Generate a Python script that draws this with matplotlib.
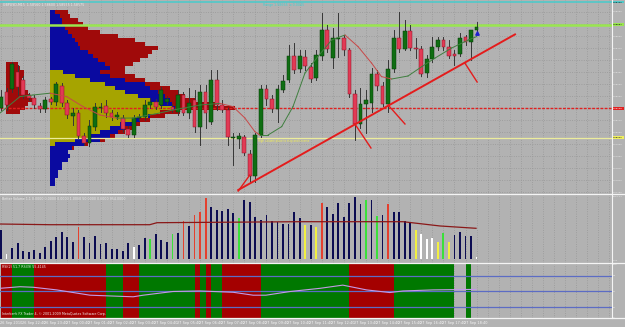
import matplotlib.pyplot as plt
from matplotlib.lines import Line2D
from matplotlib.patches import Rectangle
from matplotlib.transforms import blended_transform_factory

# GBPUSD M15 candles (26 Sep 21:40 .. 27 Sep 19:10)
opens = [1.58170, 1.58250, 1.58265, 1.58350, 1.58310, 1.58235, 1.58220, 1.58180, 1.58165, 1.58215,
         1.58200, 1.58280, 1.58195, 1.58130, 1.58145, 1.58030, 1.57995, 1.58075, 1.58170, 1.58180,
         1.58145, 1.58125, 1.58120, 1.58065, 1.58035, 1.58120, 1.58125, 1.58185, 1.58200, 1.58185,
         1.58200, 1.58175, 1.58150, 1.58235, 1.58145, 1.58210, 1.58075, 1.58250, 1.58100, 1.58310,
         1.58185, 1.58160, 1.58020, 1.58015, 1.58025, 1.57940, 1.57830, 1.58035, 1.58265, 1.58215,
         1.58165, 1.58260, 1.58310, 1.58430, 1.58365, 1.58425, 1.58375, 1.58320, 1.58430, 1.58560,
         1.58420, 1.58515, 1.58520, 1.58460, 1.58240, 1.58090, 1.58190, 1.58195, 1.58340, 1.58280,
         1.58190, 1.58365, 1.58520, 1.58465, 1.58555, 1.58470, 1.58465, 1.58345, 1.58415, 1.58475,
         1.58510, 1.58475, 1.58440, 1.58440, 1.58525, 1.58500, 1.58560]
highs = [1.58260, 1.58270, 1.58400, 1.58385, 1.58330, 1.58245, 1.58235, 1.58195, 1.58225, 1.58225,
         1.58300, 1.58295, 1.58210, 1.58170, 1.58160, 1.58045, 1.58110, 1.58195, 1.58195, 1.58210,
         1.58160, 1.58150, 1.58135, 1.58080, 1.58135, 1.58140, 1.58210, 1.58220, 1.58215, 1.58275,
         1.58230, 1.58190, 1.58260, 1.58250, 1.58270, 1.58260, 1.58285, 1.58285, 1.58360, 1.58360,
         1.58210, 1.58170, 1.58045, 1.58045, 1.58035, 1.57960, 1.58045, 1.58285, 1.58285, 1.58235,
         1.58285, 1.58335, 1.58485, 1.58495, 1.58460, 1.58460, 1.58395, 1.58460, 1.58645, 1.58585,
         1.58570, 1.58645, 1.58535, 1.58470, 1.58260, 1.58270, 1.58260, 1.58370, 1.58360, 1.58300,
         1.58410, 1.58560, 1.58650, 1.58610, 1.58585, 1.58520, 1.58480, 1.58435, 1.58525, 1.58525,
         1.58525, 1.58510, 1.58460, 1.58545, 1.58535, 1.58560, 1.58600]
lows = [1.58160, 1.58160, 1.58250, 1.58235, 1.58220, 1.58210, 1.58170, 1.58150, 1.58150, 1.58190,
        1.58185, 1.58180, 1.58120, 1.58085, 1.58020, 1.57985, 1.57980, 1.58060, 1.58150, 1.58125,
        1.58110, 1.58115, 1.58050, 1.58025, 1.58025, 1.58110, 1.58110, 1.58170, 1.58165, 1.58170,
        1.58190, 1.58150, 1.58135, 1.58135, 1.58120, 1.58050, 1.57985, 1.58070, 1.58090, 1.58160,
        1.58150, 1.57985, 1.57885, 1.57970, 1.57935, 1.57795, 1.57800, 1.58025, 1.58185, 1.58150,
        1.58100, 1.58250, 1.58300, 1.58345, 1.58350, 1.58360, 1.58300, 1.58310, 1.58410, 1.58450,
        1.58370, 1.58425, 1.58435, 1.58225, 1.58010, 1.58070, 1.58045, 1.58150, 1.58260, 1.58180,
        1.58150, 1.58350, 1.58450, 1.58460, 1.58460, 1.58420, 1.58330, 1.58325, 1.58400, 1.58460,
        1.58460, 1.58420, 1.58385, 1.58430, 1.58485, 1.58410, 1.58555]
closes = [1.58225, 1.58185, 1.58390, 1.58275, 1.58235, 1.58220, 1.58185, 1.58165, 1.58210, 1.58200,
          1.58290, 1.58195, 1.58135, 1.58145, 1.58030, 1.57995, 1.58080, 1.58175, 1.58175, 1.58145,
          1.58125, 1.58135, 1.58065, 1.58035, 1.58120, 1.58125, 1.58185, 1.58200, 1.58175, 1.58260,
          1.58215, 1.58160, 1.58235, 1.58145, 1.58195, 1.58075, 1.58250, 1.58145, 1.58310, 1.58185,
          1.58160, 1.58025, 1.58025, 1.58030, 1.57945, 1.57830, 1.58035, 1.58265, 1.58215, 1.58165,
          1.58265, 1.58305, 1.58430, 1.58360, 1.58430, 1.58380, 1.58315, 1.58435, 1.58560, 1.58465,
          1.58520, 1.58520, 1.58460, 1.58240, 1.58090, 1.58190, 1.58210, 1.58340, 1.58280, 1.58190,
          1.58365, 1.58520, 1.58465, 1.58555, 1.58470, 1.58465, 1.58340, 1.58415, 1.58475, 1.58510,
          1.58475, 1.58430, 1.58430, 1.58520, 1.58500, 1.58560, 1.58575]

# moving average on the price chart (bar, value)
ma_bars = [-0.18, 3.44, 5.79, 8.86, 11.88, 14.83, 17.9, 20.92, 23.87, 27.85, 31.1, 35.99, 39.6,
           41.95, 44.1, 45.9, 46.8, 48.3, 50.76, 52.8, 54.97, 57.3, 59.8, 62.2, 64.56, 67.0,
           68.8, 70.65, 73.6, 76.1, 78.5, 81.5, 84.5, 86.0]
ma_vals = [1.58145, 1.58227, 1.58235, 1.58244, 1.58227, 1.58177, 1.58135, 1.58119, 1.58120,
           1.58140, 1.58160, 1.58185, 1.58193, 1.58177, 1.58120, 1.58052, 1.58035, 1.58035,
           1.58077, 1.58177, 1.58345, 1.58427, 1.58510, 1.58535, 1.58477, 1.58395, 1.58327,
           1.58315, 1.58330, 1.58377, 1.58420, 1.58470, 1.58510, 1.58527]

# Better Volume histogram  (n=navy r=climax g=churn y=low vol w=low vol churn)
volumes = [733, 133, 290, 400, 208, 190, 233, 165, 315, 458,
           550, 690, 565, 440, 815, 550, 415, 583, 375, 400,
           258, 250, 215, 415, 300, 358, 525, 500, 625, 483,
           440, 625, 665, 965, 833, 1108, 1190, 1525, 1300, 1233,
           1215, 1258, 1165, 1025, 1483, 1440, 1050, 983, 1108, 958,
           940, 875, 875, 1175, 1040, 858, 860, 815, 1400, 1300,
           1125, 1400, 1065, 1400, 1565, 1383, 1483, 1483, 1090, 1108,
           1383, 1190, 1190, 958, 900, 733, 633, 508, 540, 440,
           665, 440, 608, 690, 590, 583, 50]
vol_kinds = ("nwnnnnnnnn" "nnnnrnnnnn" "nnnnwnngnn" "ngnrnrrrnn" "nnngnnnnnn"
             "nnnnnynyrn" "nnnnnngngn" "rnnnnywwwy" "gynnnnw")
vol_ma_bars = [-0.18, 8.86, 26.9, 28.2, 54.1, 72.7, 79.4, 85.9]
vol_ma_vals = [882, 865, 865, 915, 940, 940, 833, 775]

# volume profile: top price of each row, widths in ticks
prof_top = [1.5866, 1.5864, 1.5862, 1.5860, 1.5858, 1.5856, 1.5854, 1.5852, 1.5850, 1.5848,
            1.5846, 1.5844, 1.5842, 1.5840, 1.5838, 1.5836, 1.5834, 1.5832, 1.5830, 1.5828,
            1.5826, 1.5824, 1.5822, 1.5820, 1.5818, 1.5816, 1.5814, 1.5812, 1.5810, 1.5808,
            1.5806, 1.5804, 1.5802, 1.5800, 1.5798, 1.5796, 1.5794, 1.5792, 1.5790, 1.5788,
            1.5786, 1.5784, 1.5782, 1.5780]
prof_buy = [5, 10, 12, 12, 15, 18, 22, 25, 28, 30, 38, 43, 48, 55, 60, 50, 60, 75, 95, 100,
            108, 115, 120, 122, 125, 110, 100, 90, 82, 75, 68, 60, 50, 35, 22, 18, 20, 18, 12, 12,
            8, 8, 5, 5]
prof_total = [18, 20, 28, 33, 38, 50, 68, 85, 95, 108, 102, 98, 90, 83, 75, 75, 85, 95, 110, 120,
              128, 135, 145, 165, 185, 130, 115, 100, 90, 82, 75, 65, 55, 38, 24, 18, 20, 18, 12, 12,
              8, 8, 5, 5]
prof_va = [0, 0, 0, 0, 0, 0, 0, 0, 0, 0, 0, 0, 0, 0, 0, 13, 25, 40, 55, 65,
           75, 88, 100, 110, 122, 110, 98, 83, 70, 60, 50, 40, 25, 5, 0, 0, 0, 0, 0, 0,
           0, 0, 0, 0]
prof2_top = [1.5840, 1.5838, 1.5836, 1.5834, 1.5832, 1.5830, 1.5828, 1.5826, 1.5824, 1.5822,
             1.5820, 1.5818, 1.5816]
prof2_total = [12, 14, 18, 18, 16, 19, 18, 22, 24, 26, 22, 19, 14]

# RSI
rsi_bars = [-0.18, 3.44, 5.8, 10.07, 16.1, 23.9, 25.7, 31.1, 36.0, 42.0, 45.6, 47.9, 52.3,
            57.7, 61.8, 66.1, 70.3, 72.7, 78.1, 85.9]
rsi_vals = [56, 59, 58, 53, 43, 40, 43, 50, 51, 48.5, 43, 43, 50, 56, 62, 53, 48, 51, 53, 54]
rsi_zones = [(0, 2, 'r'), (2, 6, 'g'), (6, 19, 'r'), (19, 22, 'g'), (22, 25, 'r'), (25, 35, 'g'),
             (35, 36, 'r'), (36, 37, 'g'), (37, 38, 'r'), (38, 40, 'g'), (40, 47, 'r'),
             (47, 63, 'g'), (63, 71, 'r'), (71, 82, 'g'), (84, 85, 'g')]
rsi_levels = [80, 50, 20]

price_ticks = [1.5865, 1.5859, 1.5853, 1.5847, 1.5841, 1.5835, 1.5829, 1.5823, 1.5817, 1.5811,
               1.5805, 1.5799, 1.5793, 1.5787, 1.5781, 1.5775]
time_labels = ["26 Sep 2010", "26 Sep 22:40", "26 Sep 23:40"] + \
    ["27 Sep %02d:40" % h for h in range(0, 19)]

lvl_top, lvl_high, lvl_poc, lvl_low = 1.58700, 1.58587, 1.58168, 1.58022
trend = [(42.9, 1.57760), (92.95, 1.58538)]
marks = [[(42.9, 1.57755), (45.0, 1.57835)], [(64.0, 1.58090), (66.9, 1.57970)],
         [(70.0, 1.58185), (73.05, 1.58090)], [(83.9, 1.58394), (86.1, 1.58300)]]

# ---------------- drawing ----------------
W, H = 625, 327
BG = '#b2b2b2'
GRID = '#979797'
TXT = '#ededed'
PXB = 5.53          # pixels per bar
FS = 2.3            # small chart text
FSR = 1.75          # right scale text (only 12 px wide)

fig = plt.figure(figsize=(W / 100, H / 100), dpi=100)
fig.patch.set_facecolor(BG)


def panel(top, bottom):
    a = fig.add_axes([0, 1 - bottom / H, 612 / W, (bottom - top) / H])
    a.set_facecolor(BG)
    a.set_xlim(-1 / PXB, 611 / PXB)
    for s in a.spines.values():
        s.set_visible(False)
    a.set_xticks([])
    a.set_yticks([])
    for gx in range(0, 112, 2):
        a.axvline(gx, color=GRID, lw=0.6, ls=(0, (1, 1.8)), zorder=0.5)
    return a


def right_text(a, y, s, **kw):
    tr = blended_transform_factory(fig.transFigure, a.transData)
    a.text(613.2 / W, y, s, transform=tr, fontsize=FSR, ha='left', va='center',
           clip_on=False, **kw)


ax = panel(0, 193.5)
axv = panel(194.5, 262.5)
axr = panel(263.5, 318)

# main price panel
ax.set_ylim(1.577425, 1.5871)
for p in price_ticks:
    ax.axhline(p, color=GRID, lw=0.6, ls=(0, (1, 1.8)), zorder=0.5)
    right_text(ax, p, "%.5f" % p, color=TXT)

# volume profiles
start = 49 / PXB
for top, tot, buy, va in zip(prof_top, prof_total, prof_buy, prof_va):
    ax.barh(top - 0.0002, tot / PXB, left=start, height=0.0002, align='edge',
            color='#a00a0a', lw=0, zorder=1)
    ax.barh(top - 0.0002, buy / PXB, left=start, height=0.0002, align='edge',
            color='#0a0aa0', lw=0, zorder=1.1)
    if va:
        ax.barh(top - 0.0002, va / PXB, left=start, height=0.0002, align='edge',
                color='#a6a400', lw=0, zorder=1.2)
for top, tot in zip(prof2_top, prof2_total):
    ax.barh(top - 0.0002, tot / PXB, left=5 / PXB, height=0.0002, align='edge',
            color='#a00a0a', lw=0, zorder=1)

# horizontal levels
ax.axhline(lvl_top, color='#4fc9c9', lw=1.2, zorder=2)
ax.axhline(lvl_high, color='#9ae650', lw=1.8, zorder=2)
ax.axhline(lvl_poc, color='#e02020', lw=1.0, ls=(0, (2, 1)), zorder=2)
ax.axhline(lvl_low, color='#ecec9c', lw=0.9, zorder=2)

# candles
for i, (o, h, l, c) in enumerate(zip(opens, highs, lows, closes)):
    ax.plot([i, i], [l, h], color='#363636', lw=0.7, zorder=3)
    up = c >= o
    body = max(abs(c - o), 0.00003)
    ax.add_patch(Rectangle((i - 0.34, min(o, c)), 0.68, body,
                           fc='#0f6e12' if up else '#e23a55',
                           ec='#063a06' if up else '#8c1426', lw=0.35, zorder=4))

# moving average, green while rising, red while falling
for k in range(len(ma_bars) - 1):
    col = '#3f7f3f' if ma_vals[k + 1] >= ma_vals[k] else '#c84848'
    ax.plot(ma_bars[k:k + 2], ma_vals[k:k + 2], color=col, lw=0.7, zorder=4.5)

# trend line and touch marks
ax.plot([t[0] for t in trend], [t[1] for t in trend], color='#e41c1c', lw=1.4, zorder=5)
for m in marks:
    ax.plot([m[0][0], m[1][0]], [m[0][1], m[1][1]], color='#e41c1c', lw=1.0, zorder=5)
ax.plot([86], [1.58545], marker='^', ms=2.5, color='#2020d0', zorder=6)

ax.text(257 / PXB, 1.58005, "High volume place to stop and reverse", fontsize=1.9,
        color='#f4f050', va='center', zorder=6)
ax.text(3 / 612, 0.985, "GBPUSD,M15  1.58560 1.58600 1.58555 1.58575", transform=ax.transAxes,
        fontsize=FS, color=TXT, va='top')
ax.text(262 / PXB, 1.58685, "Range 1.58665  x 0.0045", fontsize=FS, color='#40d0d0', va='center')

for y, s, fc, tc in [(lvl_top, "1.58700", '#4fc9c9', 'black'),
                     (lvl_high, "1.58587", '#9ae650', 'black'),
                     (lvl_poc, "1.58168", '#e02020', 'white'),
                     (lvl_low, "1.58022", '#f0f060', 'black')]:
    right_text(ax, y, s, color=tc,
               bbox=dict(boxstyle='square,pad=0.25', fc=fc, ec='none'))

# volume panel
axv.set_ylim(-80, 1620)
vcol = {'n': '#0c0c52', 'r': '#e4402e', 'g': '#3ae03a', 'y': '#f2f040', 'w': '#ffffff'}
axv.bar(range(len(volumes)), volumes, width=0.33, color=[vcol[k] for k in vol_kinds],
        lw=0, zorder=2)
axv.plot(vol_ma_bars, vol_ma_vals, color='#8a1818', lw=0.9, zorder=3)
axv.text(2 / 612, 0.97, "Better Volume 1.1 0.0000 0.0000 0.0000 1.0000 50.0000 0.0000 954.0000",
         transform=axv.transAxes, fontsize=FS, color=TXT, va='top')
right_text(axv, 1567, "1567.14", color=TXT)
right_text(axv, -30, "0.00", color=TXT)

# RSI panel
axr.set_ylim(0, 102.8)
zcol = {'r': '#a40000', 'g': '#007800'}
for a0, a1, z in rsi_zones:
    axr.axvspan(a0, a1, color=zcol[z], lw=0, zorder=1)
for lv in rsi_levels:
    axr.axhline(lv, color='#5c6cc4', lw=0.9, zorder=2)
axr.plot(rsi_bars, rsi_vals, color='#c49ae6', lw=0.8, zorder=3)
axr.text(2 / 612, 0.97, "RSI(2) 51.7 RSI(9) 55.4145", transform=axr.transAxes,
         fontsize=FS, color=TXT, va='top', zorder=4)
axr.text(2 / 612, 0.03, "Interbank FX Trader 4, \u00a9 2001-2009 MetaQuotes Software Corp.",
         transform=axr.transAxes, fontsize=FS, color=TXT, va='bottom', zorder=4)
for lv, s in [(100, "100"), (80, "80"), (50, "50"), (20, "20"), (0, "0")]:
    right_text(axr, lv, s, color=TXT)

# time axis labels
tx = blended_transform_factory(axr.transData, fig.transFigure)
for k, s in enumerate(time_labels):
    axr.text(4 * k - 0.25, 1 - 322.8 / H, s, transform=tx, fontsize=2.5, color='#f6f6f6',
             ha='left', va='center', clip_on=False)

# panel separators
for yy in [193.9, 262.9, 318.3]:
    fig.add_artist(Line2D([0, 1], [1 - yy / H] * 2, color='#f4f4f4', lw=0.9))
fig.add_artist(Line2D([612 / W] * 2, [1 - 318.3 / H, 1], color='#f4f4f4', lw=0.8))

fig.savefig('out.png', dpi=100, facecolor=BG)
